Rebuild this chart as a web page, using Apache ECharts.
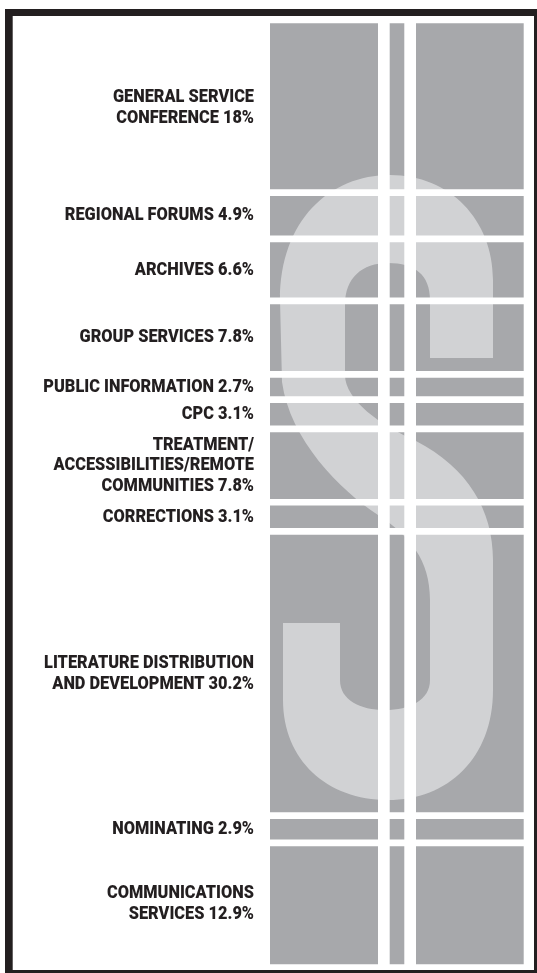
<!DOCTYPE html>
<html><head><meta charset="utf-8">
<script src="https://cdn.jsdelivr.net/npm/echarts@6/dist/echarts.min.js"></script>
<style>html,body{margin:0;padding:0;background:#fff}#c{width:537px;height:973px}</style>
</head><body><div id="c"></div>
<script>
// Budget share by area (percent), top to bottom
const categories = [
  'GENERAL SERVICE\nCONFERENCE',
  'REGIONAL FORUMS',
  'ARCHIVES',
  'GROUP SERVICES',
  'PUBLIC INFORMATION',
  'CPC',
  'TREATMENT/\nACCESSIBILITIES/REMOTE\nCOMMUNITIES',
  'CORRECTIONS',
  'LITERATURE DISTRIBUTION\nAND DEVELOPMENT',
  'NOMINATING',
  'COMMUNICATIONS\nSERVICES'
];
const values = [18, 4.9, 6.6, 7.8, 2.7, 3.1, 7.8, 3.1, 30.2, 2.9, 12.9];

const DARK = '#a7a8ab', LIGHT = '#d1d2d4', INK = '#231f20';
const GAP = 6.7;
const BAR_L = 270, BAR_R = 523.7, BAR_T = 23.3, BAR_B = 964.3;
const W = 537, H = 973;
const FONT_FAMILY = 'Roboto, "DejaVu Sans Condensed", sans-serif';

// stack starts derived from the values
const starts = [];
values.reduce((acc, v, i) => { starts[i] = acc; return acc + v; }, 0);
const boundaries = starts.slice(1);

const chart = echarts.init(document.getElementById('c'), null, {renderer: 'canvas'});

const barSeries = values.map((v, i) => ({
  type: 'bar', stack: 'budget', name: categories[i], data: [v],
  barWidth: '100%', z: 2, silent: true,
  itemStyle: {color: DARK}
}));

// decorative dollar-sign "S" behind the segments
const sPath = 'M 493 358 L 430 358 L 430 300 C 430 275 415 263 388 263 C 362 263 345 278 345 305 L 345 375 ' +
  'C 345 400 380 425 416 441 C 468 468 493 510 493 560 L 493 690 C 493 758 448 800 388 800 ' +
  'C 327 800 283 760 283 700 L 283 623 L 340 623 L 340 680 C 340 700 360 710 385 710 ' +
  'C 410 710 430 700 430 680 L 430 600 C 430 560 410 536 378 515 C 340 490 290 440 282 382 ' +
  'L 280 300 C 280 220 330 175 390 175 C 450 175 493 220 493 280 Z';

const sSeries = {
  type: 'custom', coordinateSystem: 'none', z: 3, silent: true, data: [[0]],
  renderItem: () => ({
    type: 'path',
    shape: {pathData: sPath, x: 280, y: 175, width: 213, height: 625, layout: 'cover'},
    style: {fill: LIGHT}
  })
};

// white separators between stacked segments
const gapSeries = {
  type: 'custom', z: 4, silent: true,
  data: boundaries.map(b => [0, b]),
  renderItem: (params, api) => {
    const cs = params.coordSys;
    const p = api.coord([api.value(0), api.value(1)]);
    return {type: 'rect', shape: {x: cs.x - 2, y: p[1] - GAP / 2, width: cs.width + 4, height: GAP},
            style: {fill: '#ffffff'}};
  }
};

// labels to the left of each segment, centred on it
const labelSeries = {
  type: 'custom', z: 5, silent: true,
  data: values.map((v, i) => [0, starts[i], starts[i] + v, i]),
  renderItem: (params, api) => {
    const cs = params.coordSys;
    const i = api.value(3);
    const a = api.coord([0, api.value(1)]);
    const b = api.coord([0, api.value(2)]);
    return {
      type: 'text', x: cs.x - 16, y: (a[1] + b[1]) / 2, scaleX: 0.86,
      style: {
        text: categories[i] + ' ' + values[i] + '%',
        fontFamily: FONT_FAMILY, fontWeight: 900, fontSize: 19, lineHeight: 20.5,
        fill: INK, align: 'right', verticalAlign: 'middle'
      }
    };
  }
};

chart.setOption({
  animation: false,
  grid: {left: BAR_L, right: W - BAR_R, top: BAR_T, bottom: H - BAR_B, containLabel: false},
  xAxis: {type: 'category', data: ['Budget'], show: false, boundaryGap: true},
  yAxis: {type: 'value', inverse: true, min: 0, max: 100, show: false},
  graphic: [
    {type: 'rect', z: 0, silent: true, shape: {x: 5, y: 9, width: 532, height: 964}, style: {fill: INK}},
    {type: 'rect', z: 0, silent: true, shape: {x: 12.7, y: 16, width: 521.3, height: 954}, style: {fill: '#ffffff'}},
    {type: 'rect', z: 6, silent: true, shape: {x: 378, y: 18, width: 11.7, height: 950}, style: {fill: '#ffffff'}},
    {type: 'rect', z: 6, silent: true, shape: {x: 404.3, y: 18, width: 11.7, height: 950}, style: {fill: '#ffffff'}}
  ],
  series: barSeries.concat([sSeries, gapSeries, labelSeries])
});
</script></body></html>
